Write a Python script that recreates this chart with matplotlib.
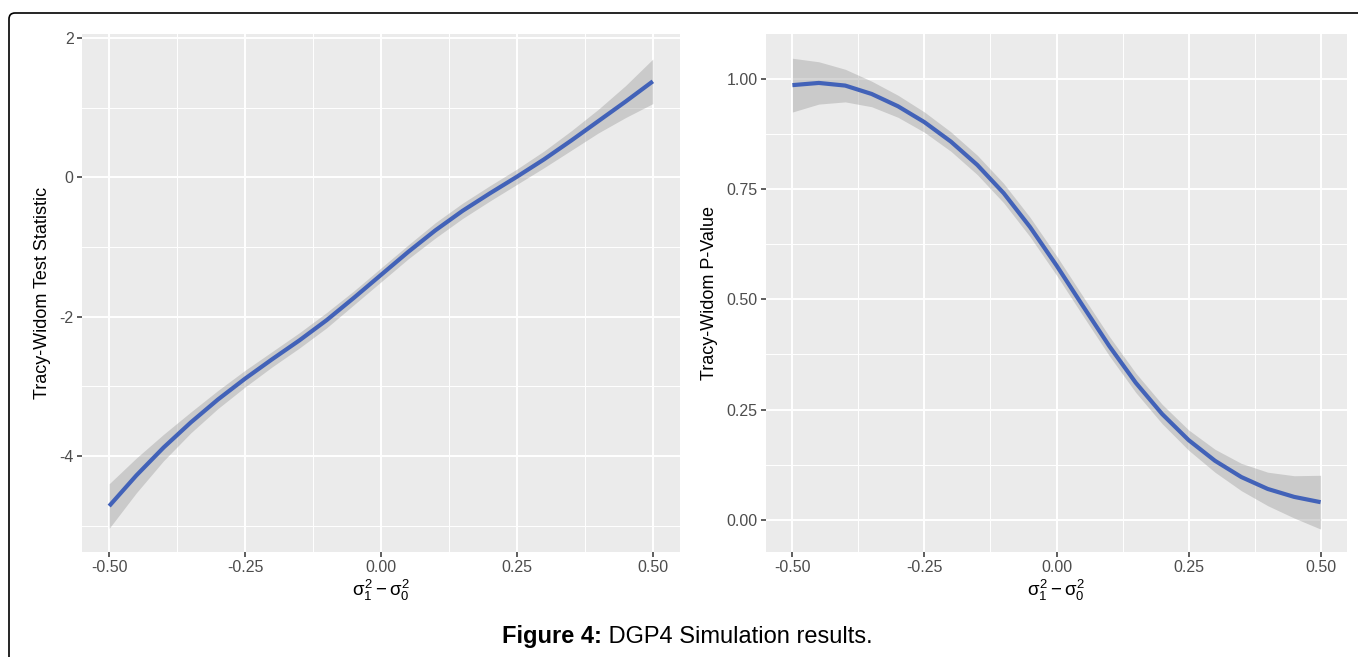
import numpy as np
import matplotlib
matplotlib.use("Agg")
import matplotlib.pyplot as plt
from matplotlib.path import Path
from matplotlib.patches import PathPatch
from matplotlib.ticker import MultipleLocator

# ---------------- data ----------------
x_vals = [-0.50, -0.45, -0.40, -0.35, -0.30, -0.25, -0.20, -0.15, -0.10, -0.05,
          0.00, 0.05, 0.10, 0.15, 0.20, 0.25, 0.30, 0.35, 0.40, 0.45, 0.50]

stat_fit = [-4.72, -4.28, -3.88, -3.52, -3.19, -2.89, -2.61, -2.34, -2.05, -1.73,
            -1.40, -1.07, -0.76, -0.48, -0.23, 0.01, 0.26, 0.53, 0.81, 1.09, 1.38]
stat_se = [0.32, 0.25, 0.19, 0.15, 0.13, 0.12, 0.11, 0.11, 0.11, 0.10,
           0.10, 0.10, 0.11, 0.11, 0.11, 0.11, 0.12, 0.14, 0.17, 0.23, 0.32]

pval_fit = [0.986, 0.991, 0.985, 0.966, 0.938, 0.902, 0.858, 0.805, 0.741, 0.664,
            0.577, 0.485, 0.394, 0.311, 0.240, 0.181, 0.134, 0.097, 0.070, 0.052, 0.040]
pval_se = [0.061, 0.048, 0.037, 0.029, 0.025, 0.023, 0.022, 0.022, 0.022, 0.022,
           0.022, 0.022, 0.022, 0.022, 0.022, 0.023, 0.026, 0.031, 0.038, 0.048, 0.061]

x_ticks = [-0.50, -0.25, 0.00, 0.25, 0.50]
x_tick_labels = ["-0.50", "-0.25", "0.00", "0.25", "0.50"]
stat_ticks = [-4, -2, 0, 2]
stat_tick_labels = ["-4", "-2", "0", "2"]
pval_ticks = [0.00, 0.25, 0.50, 0.75, 1.00]
pval_tick_labels = ["0.00", "0.25", "0.50", "0.75", "1.00"]

x_label = r"$\sigma_1^2 - \sigma_0^2$"
stat_ylabel = "Tracy-Widom Test Statistic"
pval_ylabel = "Tracy-Widom P-Value"
caption_bold = "Figure 4:"
caption_rest = " DGP4 Simulation results."

# ---------------- style ----------------
plt.rcParams['font.family'] = ['Liberation Sans', 'DejaVu Sans']
plt.rcParams['mathtext.fontset'] = 'custom'
plt.rcParams['mathtext.rm'] = 'Liberation Sans'
plt.rcParams['mathtext.it'] = 'Liberation Sans'

W, H = 1358, 657
fig = plt.figure(figsize=(W / 100, H / 100), dpi=100)
fig.patch.set_facecolor('white')

PANEL = '#EBEBEB'
LINE = '#4262B8'
RIBBON = '#999999'
TICKC = '#4D4D4D'


def px_axes(l, r, t, b):
    return fig.add_axes([l / W, 1 - b / H, (r - l) / W, (b - t) / H])


def style(ax, yticks, ylabels, yminor, xlim, ylim):
    ax.set_facecolor(PANEL)
    for s in ax.spines.values():
        s.set_visible(False)
    ax.set_xlim(*xlim)
    ax.set_ylim(*ylim)
    ax.set_xticks(x_ticks)
    ax.set_xticklabels(x_tick_labels)
    ax.set_yticks(yticks)
    ax.set_yticklabels(ylabels)
    ax.xaxis.set_minor_locator(MultipleLocator(0.125))
    ax.yaxis.set_minor_locator(MultipleLocator(yminor))
    ax.grid(which='major', color='white', linewidth=1.4)
    ax.grid(which='minor', color='white', linewidth=0.7)
    ax.set_axisbelow(True)
    ax.tick_params(which='major', length=3.5, width=1.1, color='#333333',
                   labelsize=11.5, labelcolor=TICKC, pad=2.5)
    ax.tick_params(which='minor', length=0)


def band(ax, fit, se):
    fit = np.asarray(fit)
    se = np.asarray(se)
    ax.fill_between(x_vals, fit - se, fit + se, color=RIBBON, alpha=0.4, linewidth=0)
    ax.plot(x_vals, fit, color=LINE, linewidth=3.0, solid_capstyle='butt',
            solid_joinstyle='round')


# left panel
ax1 = px_axes(82, 680, 34, 552)
band(ax1, stat_fit, stat_se)
style(ax1, stat_ticks, stat_tick_labels, 1.0, (-0.55, 0.55), (-5.38, 2.06))
ax1.set_xlabel(x_label, fontsize=13.5, labelpad=2)
ax1.set_ylabel(stat_ylabel, fontsize=13, labelpad=6)

# right panel
ax2 = px_axes(766, 1347, 34, 552)
band(ax2, pval_fit, pval_se)
style(ax2, pval_ticks, pval_tick_labels, 0.125, (-0.55, 0.55), (-0.073, 1.102))
ax2.set_xlabel(x_label, fontsize=13.5, labelpad=2)
ax2.set_ylabel(pval_ylabel, fontsize=13, labelpad=6)

# border with rounded top-left corner
r = 6
x0, y0 = 9, 13
verts = [(W + 5, y0), (x0 + r, y0), (x0, y0), (x0, y0 + r), (x0, H + 5)]
codes = [Path.MOVETO, Path.LINETO, Path.CURVE3, Path.CURVE3, Path.LINETO]
verts_f = [(vx / W, 1 - vy / H) for vx, vy in verts]
border = PathPatch(Path(verts_f, codes), transform=fig.transFigure,
                   facecolor='none', edgecolor='black', linewidth=1.2, clip_on=False)
fig.add_artist(border)

# caption
cap_y = 1 - 637 / H
t1 = fig.text(502 / W, cap_y, caption_bold, fontsize=17, fontweight='bold',
              ha='left', va='center')
fig.canvas.draw()
bb = t1.get_window_extent(renderer=fig.canvas.get_renderer())
fig.text(bb.x1 / W, cap_y, caption_rest, fontsize=17, ha='left', va='center')

fig.savefig('out.png', dpi=100, facecolor='white')
